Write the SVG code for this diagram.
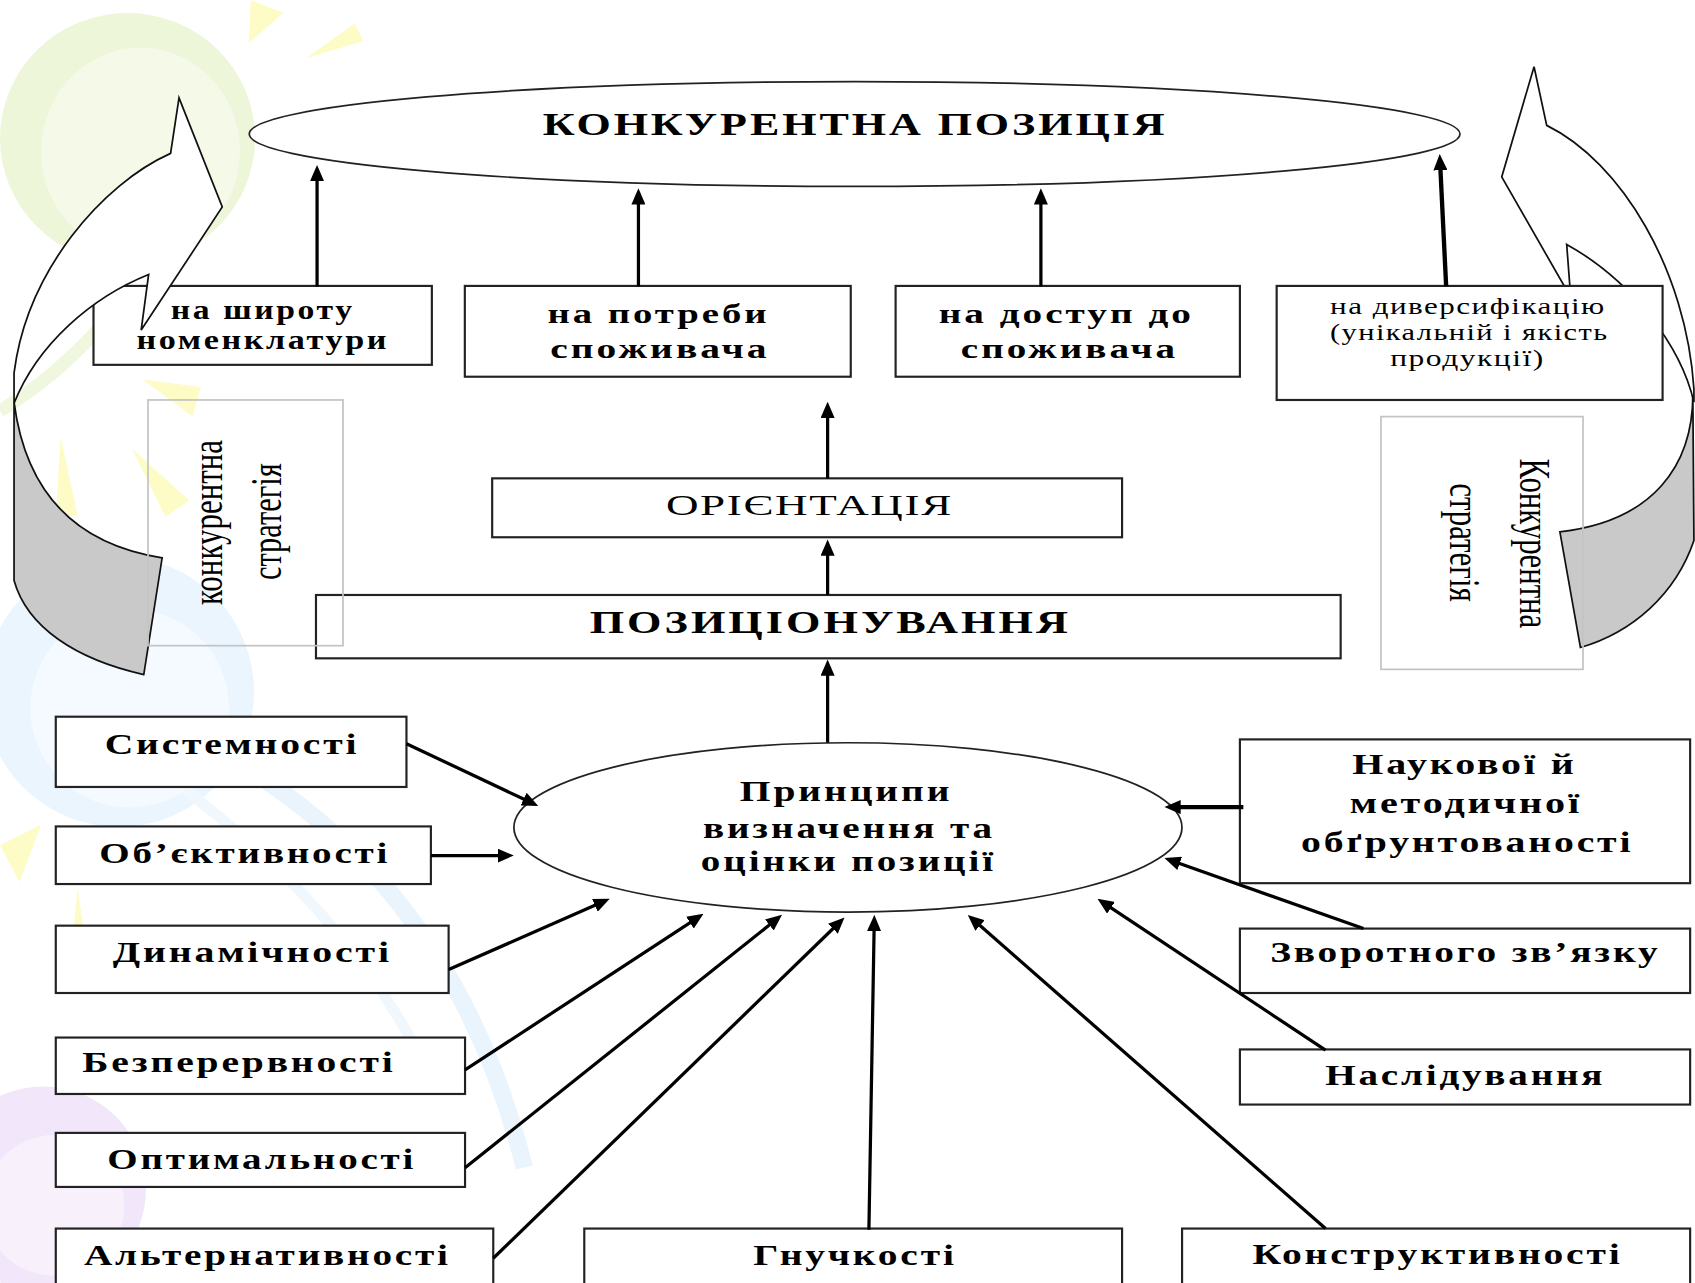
<svg xmlns="http://www.w3.org/2000/svg" width="1695" height="1283" viewBox="0 0 1695 1283">
<defs>
<style>
.bx{fill:#fff;stroke:#222;stroke-width:2}
.vb{fill:none;stroke:#c4c4c4;stroke-width:1.6}
.el{fill:#fff;stroke:#222;stroke-width:1.6}
.cn{fill:none;stroke:#000;stroke-width:3;marker-end:url(#ah)}
.cw{fill:none;stroke:#000;stroke-width:4;marker-end:url(#ah)}
.sh{fill:#fff;stroke:#111;stroke-width:1.6;stroke-linejoin:miter}
.gr{fill:#c9c9c9;stroke:#111;stroke-width:1.6}
.b{font-family:"Liberation Serif","Times New Roman",serif;font-weight:bold;fill:#000;letter-spacing:2px}
.n{font-family:"Liberation Serif","Times New Roman",serif;font-weight:normal;fill:#000;letter-spacing:1px}
.v{font-family:"Liberation Serif","Times New Roman",serif;font-weight:normal;fill:#000}
.yl{fill:#fdfbc6}
</style>
<marker id="ah" viewBox="0 0 15 13" refX="7" refY="6.5" markerWidth="15" markerHeight="13" markerUnits="userSpaceOnUse" orient="auto">
<path d="M0,0 L15,6.5 L0,13 Z" fill="#000"/>
</marker>
</defs>
<rect x="0" y="0" width="1695" height="1283" fill="#fff"/>
<g transform="scale(1.081)">
<g id="background">
<ellipse cx="118" cy="128" rx="118" ry="116" fill="#edf6d8"/>
<ellipse cx="130" cy="140" rx="92" ry="96" fill="#f4f9e8"/>
<path d="M0,380 Q50,350 95,300" fill="none" stroke="#eff7de" stroke-width="12"/>
<circle cx="110" cy="640" r="125" fill="#eaf5fd"/>
<circle cx="120" cy="655" r="92" fill="#f4faff"/>
<path d="M210,700 Q420,820 485,1080" fill="none" stroke="#e9f4fd" stroke-width="16"/>
<path d="M170,730 Q330,850 400,1000" fill="none" stroke="#f0f8fe" stroke-width="10"/>
<circle cx="40" cy="1100" r="95" fill="#f2e6fa"/>
<circle cx="50" cy="1115" r="65" fill="#f8f1fc"/>
<polygon class="yl" points="232,0 262,12 230,40"/>
<polygon class="yl" points="283,54 328,22 336,38"/>
<polygon class="yl" points="132,351 186,358 178,385"/>
<polygon class="yl" points="56,404 72,478 52,474"/>
<polygon class="yl" points="122,415 175,463 153,478"/>
<polygon class="yl" points="0,782 38,763 18,816"/>
<polygon class="yl" points="72,822 80,880 66,878"/>
</g>

<g id="node-shyrotu">
<rect class="bx" x="86.5" y="264.5" width="313" height="73"/>
<text class="b" x="158" y="295" font-size="26" textLength="170" lengthAdjust="spacingAndGlyphs">на широту</text>
<text class="b" x="126.3" y="323" font-size="26" textLength="233.7" lengthAdjust="spacingAndGlyphs">номенклатури</text>
</g>

<g id="left-curved-arrow">
<path class="gr" d="M13,372 C25,465 80,505 150,516 L133,624 C70,610 25,580 13,537 Z"/>
<path class="sh" d="M157.8,141.9 C95,170 25,250 13,345 L13,373 C35,318 85,275 137.5,253.9 L130.6,305.3 L205.6,191.5 L165.6,90.5 Z"/>
</g>

<g id="right-curved-arrow">
<path class="gr" d="M1566,365 C1566,430 1530,482 1443,492 L1462,599 C1510,585 1550,550 1567,500 Z"/>
<path class="sh" d="M1430.8,116 C1500,150 1560,250 1567,360 L1567,372 C1555,320 1510,260 1449.3,226.1 L1453,275 L1389.2,163.7 L1419.1,61.7 Z"/>
</g>

<g id="node-pozytsiia">
<ellipse class="el" cx="790.6" cy="124" rx="560" ry="48.5"/>
<text class="b" x="502" y="125" font-size="30" textLength="578" lengthAdjust="spacingAndGlyphs">КОНКУРЕНТНА ПОЗИЦІЯ</text>
</g>

<g id="node-potreby">
<rect class="bx" x="430" y="264.5" width="357" height="84"/>
<text class="b" x="506.4" y="298.5" font-size="26" textLength="205.6" lengthAdjust="spacingAndGlyphs">на потреби</text>
<text class="b" x="509" y="331.5" font-size="26" textLength="203" lengthAdjust="spacingAndGlyphs">споживача</text>
</g>

<g id="node-dostup">
<rect class="bx" x="828.5" y="264.5" width="318.5" height="84"/>
<text class="b" x="868.4" y="298.5" font-size="26" textLength="236" lengthAdjust="spacingAndGlyphs">на доступ до</text>
<text class="b" x="888.8" y="331.5" font-size="26" textLength="201" lengthAdjust="spacingAndGlyphs">споживача</text>
</g>

<g id="node-dyversyfikatsiia">
<rect class="bx" x="1181" y="264.5" width="357" height="105.5"/>
<text class="n" x="1230.4" y="290.5" font-size="21" textLength="255" lengthAdjust="spacingAndGlyphs">на диверсифікацію</text>
<text class="n" x="1230.4" y="314.5" font-size="21" textLength="257.6" lengthAdjust="spacingAndGlyphs">(унікальній і якість</text>
<text class="n" x="1286" y="339" font-size="21" textLength="143" lengthAdjust="spacingAndGlyphs">продукції)</text>
</g>

<g id="node-oriientatsiia">
<rect class="bx" x="455.3" y="442.5" width="582.7" height="54.5"/>
<text class="n" x="616" y="476.5" font-size="27" textLength="265.6" lengthAdjust="spacingAndGlyphs">ОРІЄНТАЦІЯ</text>
</g>

<g id="node-pozytsionuvannia">
<rect class="bx" x="292.3" y="550.4" width="947.9" height="58.6"/>
<text class="b" x="545.5" y="585.5" font-size="29" textLength="445.2" lengthAdjust="spacingAndGlyphs">ПОЗИЦІОНУВАННЯ</text>
</g>

<g id="node-strategy-left">
<rect class="vb" x="136.9" y="370" width="180.4" height="227.3"/>
<text class="v" transform="translate(205,483.4) rotate(-90)" x="-76.35" y="0" font-size="41" textLength="152.7" lengthAdjust="spacingAndGlyphs">конкурентна</text>
<text class="v" transform="translate(259.5,482.6) rotate(-90)" x="-54" y="0" font-size="41" textLength="108" lengthAdjust="spacingAndGlyphs">стратегія</text>
</g>

<g id="node-strategy-right">
<rect class="vb" x="1277.5" y="385.4" width="186.9" height="233.8"/>
<text class="v" transform="translate(1406.5,502.6) rotate(90)" x="-78.5" y="0" font-size="40" textLength="157" lengthAdjust="spacingAndGlyphs">Конкурентна</text>
<text class="v" transform="translate(1341.5,501.8) rotate(90)" x="-54.8" y="0" font-size="40" textLength="109.6" lengthAdjust="spacingAndGlyphs">стратегія</text>
</g>

<g id="node-pryntsypy">
<ellipse class="el" cx="784.4" cy="765.4" rx="309" ry="78.3"/>
<text class="b" x="684.4" y="741" font-size="27" textLength="196.6" lengthAdjust="spacingAndGlyphs">Принципи</text>
<text class="b" x="650.3" y="774.8" font-size="27" textLength="270.1" lengthAdjust="spacingAndGlyphs">визначення та</text>
<text class="b" x="648.3" y="805.7" font-size="27" textLength="273.1" lengthAdjust="spacingAndGlyphs">оцінки позиції</text>
</g>

<g id="node-systemnosti">
<rect class="bx" x="51.6" y="663" width="324.4" height="65"/>
<text class="b" x="96.8" y="697.4" font-size="28" textLength="235.6" lengthAdjust="spacingAndGlyphs">Системності</text>
</g>
<g id="node-obiektyvnosti">
<rect class="bx" x="51.6" y="764.5" width="347" height="53.3"/>
<text class="b" x="91.8" y="797.9" font-size="28" textLength="269.2" lengthAdjust="spacingAndGlyphs">Об’єктивності</text>
</g>
<g id="node-dynamichnosti">
<rect class="bx" x="51.6" y="856.3" width="363.4" height="62.3"/>
<text class="b" x="104.3" y="890" font-size="28" textLength="258.2" lengthAdjust="spacingAndGlyphs">Динамічності</text>
</g>
<g id="node-bezperervnosti">
<rect class="bx" x="51.6" y="959.8" width="378.6" height="52.2"/>
<text class="b" x="76.2" y="992" font-size="28" textLength="289.8" lengthAdjust="spacingAndGlyphs">Безперервності</text>
</g>
<g id="node-optymalnosti">
<rect class="bx" x="51.6" y="1048" width="378.6" height="50"/>
<text class="b" x="99.3" y="1081.5" font-size="28" textLength="285.7" lengthAdjust="spacingAndGlyphs">Оптимальності</text>
</g>
<g id="node-alternatyvnosti">
<rect class="bx" x="51.6" y="1136.5" width="404.7" height="60"/>
<text class="b" x="77.7" y="1170" font-size="28" textLength="339.3" lengthAdjust="spacingAndGlyphs">Альтернативності</text>
</g>
<g id="node-gnuchkosti">
<rect class="bx" x="540.5" y="1136.5" width="497.5" height="60"/>
<text class="b" x="696.8" y="1170" font-size="28" textLength="188.2" lengthAdjust="spacingAndGlyphs">Гнучкості</text>
</g>
<g id="node-konstruktyvnosti">
<rect class="bx" x="1093.5" y="1136.5" width="470" height="60"/>
<text class="b" x="1158.6" y="1169.6" font-size="28" textLength="342.4" lengthAdjust="spacingAndGlyphs">Конструктивності</text>
</g>
<g id="node-naukovoi">
<rect class="bx" x="1147" y="684" width="416.5" height="133"/>
<text class="b" x="1251" y="716.3" font-size="28" textLength="207.4" lengthAdjust="spacingAndGlyphs">Наукової й</text>
<text class="b" x="1248.6" y="752.4" font-size="28" textLength="214.9" lengthAdjust="spacingAndGlyphs">методичної</text>
<text class="b" x="1203.5" y="788.5" font-size="28" textLength="307.5" lengthAdjust="spacingAndGlyphs">обґрунтованості</text>
</g>
<g id="node-zvorotnogo">
<rect class="bx" x="1147" y="859" width="416.5" height="59.6"/>
<text class="b" x="1175" y="890" font-size="28" textLength="361" lengthAdjust="spacingAndGlyphs">Зворотного зв’язку</text>
</g>
<g id="node-nasliduvannia">
<rect class="bx" x="1147" y="970.8" width="416.5" height="51"/>
<text class="b" x="1226" y="1003.5" font-size="28" textLength="259" lengthAdjust="spacingAndGlyphs">Наслідування</text>
</g>

<g id="connectors">
<line class="cn" x1="293.3" y1="265" x2="293.3" y2="160.6"/>
<line class="cn" x1="590.6" y1="265" x2="590.6" y2="182.2"/>
<line class="cn" x1="962.9" y1="265" x2="962.9" y2="182.2"/>
<line class="cw" x1="1337.8" y1="265" x2="1332.2" y2="150.5"/>
<line class="cn" x1="765.6" y1="442.5" x2="765.6" y2="379.6"/>
<line class="cn" x1="765.6" y1="550.4" x2="765.6" y2="507"/>
<line class="cn" x1="765.6" y1="687" x2="765.6" y2="618"/>
<line class="cn" x1="376" y1="688" x2="490.7" y2="742.2"/>
<line class="cn" x1="398.6" y1="791.5" x2="467.3" y2="791.5"/>
<line class="cn" x1="415.1" y1="896.9" x2="556.7" y2="834.7"/>
<line class="cn" x1="430.2" y1="989.8" x2="644.1" y2="849.7"/>
<line class="cn" x1="430.2" y1="1080.3" x2="717.2" y2="851.3"/>
<line class="cn" x1="456.3" y1="1164" x2="775.5" y2="854.3"/>
<line class="cn" x1="803.8" y1="1137.6" x2="808.7" y2="854.3"/>
<line class="cn" x1="1226.2" y1="1136.5" x2="901.3" y2="851.6"/>
<line class="cn" x1="1226.2" y1="971.5" x2="1021.9" y2="835.9"/>
<line class="cn" x1="1261.3" y1="859" x2="1084.7" y2="796.4"/>
<line class="cw" x1="1150.2" y1="746.6" x2="1085.2" y2="746.6"/>
</g>
</g>
</svg>
